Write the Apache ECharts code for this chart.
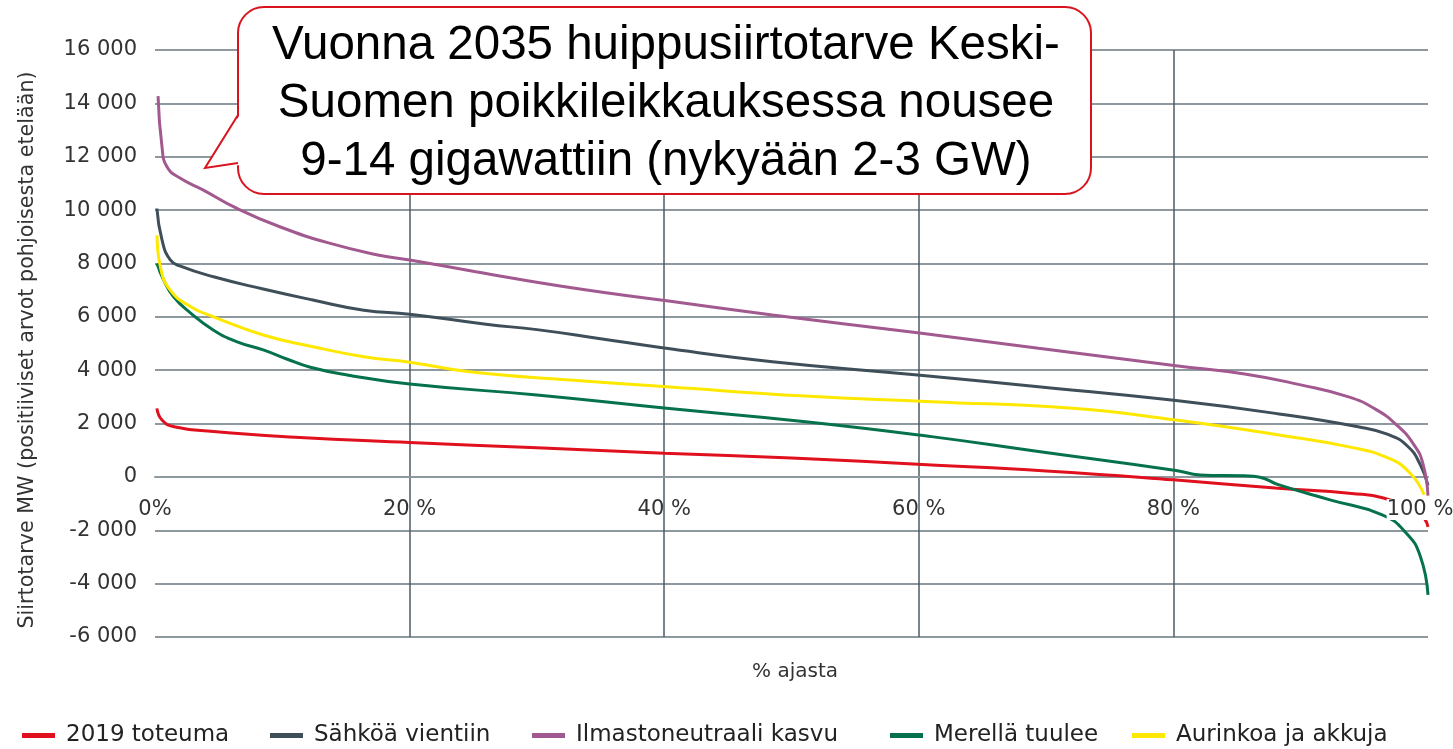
<!DOCTYPE html>
<html>
<head>
<meta charset="utf-8">
<script src="https://cdn.jsdelivr.net/npm/echarts@6/dist/echarts.min.js"></script>
<style>
html,body{margin:0;padding:0;background:#fff;}
#c{width:1453px;height:749px;}
</style>
</head>
<body>
<div id="c"></div>
<script>
// ---- data ----
const seriesNames = ['2019 toteuma', 'Sähköä vientiin', 'Ilmastoneutraali kasvu', 'Merellä tuulee', 'Aurinkoa ja akkuja'];
const seriesColors = ['#e0101e', '#3e4f59', '#a2598f', '#05724c', '#ffe800'];

const xTickLabels = ['0%', '20 %', '40 %', '60 %', '80 %', '100 %'];

const pct2019 = [0.15, 0.55, 1.5, 4.6, 11, 20, 30, 40, 50, 61, 70, 80, 88, 94, 96.5, 99.4, 100];
const val2019 = [2570, 2130, 1880, 1700, 1490, 1290, 1090, 890, 710, 450, 225, -110, -420, -620, -790, -1420, -1870];

const pctVienti = [0.15, 0.55, 1.2, 2, 4.6, 8.5, 12.4, 16.4, 20, 26, 30, 35, 40, 48.5, 59.9, 69.4, 80.2, 88.3, 94.5, 96.8, 98.4, 99.4, 100];
const valVienti = [10060, 8880, 8130, 7900, 7500, 7040, 6630, 6250, 6100, 5720, 5520, 5180, 4830, 4320, 3820, 3380, 2860, 2360, 1880, 1600, 1150, 450, -320];

const pctIlmasto = [0.24, 0.55, 0.94, 1.96, 3.8, 6.4, 9.8, 13.7, 17.6, 20, 25.2, 32.6, 40.2, 48.5, 59.9, 69.4, 80.2, 85.6, 90, 93.7, 95.8, 97.6, 98.9, 99.6, 100];
const valIlmasto = [14270, 12370, 11620, 11200, 10750, 10070, 9375, 8760, 8310, 8130, 7690, 7100, 6600, 6070, 5400, 4820, 4170, 3860, 3450, 3010, 2560, 1920, 1200, 500, -700];

const pctMeri = [0.16, 0.68, 1.46, 2.8, 4.6, 6.4, 8.5, 10.4, 12.2, 15.1, 20, 30, 40.2, 51.1, 61, 69.4, 80.2, 82.1, 85.6, 86.7, 88.3, 92.3, 96.4, 98.3, 99.4, 100];
const valMeri = [8000, 7380, 6750, 6140, 5500, 5070, 4760, 4410, 4110, 3820, 3480, 3070, 2570, 2070, 1510, 950, 240, 75, 40, 0, -300, -860, -1420, -2110, -2980, -4420];

const pctAurinko = [0.16, 0.42, 1.2, 2.8, 4.6, 8.5, 12.4, 16.4, 20, 24.7, 32.6, 40.2, 51.1, 61, 72.1, 80.2, 88.3, 93.7, 96.9, 98.6, 99.7];
const valAurinko = [9060, 7880, 7000, 6380, 6000, 5320, 4880, 4505, 4300, 3940, 3630, 3380, 3030, 2820, 2570, 2130, 1570, 1135, 700, 140, -670];

const calloutLines = ['Vuonna 2035 huippusiirtotarve Keski-', 'Suomen poikkileikkauksessa nousee', '9-14 gigawattiin (nykyään 2-3 GW)'];
const yAxisTitle = 'Siirtotarve MW (positiiviset arvot pohjoisesta etelään)';
const xAxisTitle = '% ajasta';

// ---- build ----
const FONT = '"DejaVu Sans", "Open Sans", sans-serif';
const pctSets = [pct2019, pctVienti, pctIlmasto, pctMeri, pctAurinko];
const valSets = [val2019, valVienti, valIlmasto, valMeri, valAurinko];
const zip = (a, b) => a.map((x, i) => [x, b[i]]);

function fmtY(v) {
  const a = Math.abs(v);
  let s;
  if (a >= 1000) {
    const r = String(a % 1000).padStart(3, '0');
    s = Math.floor(a / 1000) + ' ' + r;
  } else s = String(a);
  return (v < 0 ? '-' : '') + s;
}

const legendLefts = [22, 270, 532, 890, 1132];
const gridColor = '#8e989f';
const vColor = '#4d5b64';

const chart = echarts.init(document.getElementById('c'), null, {renderer: 'canvas'});
chart.setOption({
  animation: false,
  backgroundColor: '#fff',
  grid: {left: 155, right: 25, top: 50, bottom: 112, containLabel: false, outerBoundsMode: 'none'},
  xAxis: [{
    // grid lines axis
    type: 'value', min: 0, max: 100, interval: 20,
    position: 'bottom', offset: -160,
    axisLine: {show: true, onZero: false, lineStyle: {color: gridColor, width: 2}},
    axisTick: {show: false},
    axisLabel: {show: false},
    splitLine: {show: true, lineStyle: {color: ['rgba(0,0,0,0)', vColor, vColor, vColor, vColor, 'rgba(0,0,0,0)'], width: 1.5}}
  }, {
    // label axis, drawn above the lines
    type: 'value', min: 0, max: 100, interval: 20, z: 5,
    position: 'bottom', offset: -160,
    axisLine: {show: false, onZero: false}, axisTick: {show: false}, splitLine: {show: false},
    axisLabel: {
      margin: 22, fontFamily: FONT, fontSize: 21, color: '#333',
      formatter: function (v) {
        const s = xTickLabels[Math.round(v / 20)];
        return v === 100 ? '{last|' + s + '}' : s;
      },
      rich: {last: {fontFamily: FONT, fontSize: 21, color: '#333', lineHeight: 21, backgroundColor: '#fff', padding: [0, 16, 0, 0]}}
    }
  }],
  yAxis: {
    type: 'value', min: -6000, max: 16000, interval: 2000,
    axisLine: {show: false}, axisTick: {show: false},
    splitLine: {show: true, lineStyle: {color: gridColor, width: 2}},
    axisLabel: {margin: 18, fontFamily: FONT, fontSize: 21, color: '#333', formatter: fmtY}
  },
  legend: seriesNames.map((n, i) => ({
    data: [n], left: legendLefts[i], top: 724, padding: 0,
    icon: 'rect', itemWidth: 33, itemHeight: 5, selectedMode: false,
    textStyle: {fontFamily: FONT, fontSize: 23, color: '#222', padding: [0, 0, 0, 6]}
  })),
  series: seriesNames.map((n, i) => ({
    name: n, type: 'line', xAxisIndex: 0, data: zip(pctSets[i], valSets[i]),
    showSymbol: false, smooth: 0.5,
    lineStyle: {color: seriesColors[i], width: 3},
    itemStyle: {color: seriesColors[i]},
    emphasis: {disabled: true}
  })),
  graphic: [
    {type: 'text', x: 28, y: 350, rotation: Math.PI / 2,
     style: {text: yAxisTitle, fontFamily: FONT, fontSize: 20.7, fill: '#333', align: 'center', verticalAlign: 'middle'}},
    {type: 'text', x: 795, y: 672,
     style: {text: xAxisTitle, fontFamily: FONT, fontSize: 20, fill: '#333', align: 'center', verticalAlign: 'middle'}},
    {type: 'rect', z: 100, shape: {x: 238, y: 7, width: 853, height: 187, r: 26},
     style: {fill: '#fff', stroke: '#d9141e', lineWidth: 2}},
    {type: 'polygon', z: 101, shape: {points: [[241, 113], [205, 168], [241, 165]]},
     style: {fill: '#fff'}},
    {type: 'polyline', z: 102, shape: {points: [[238, 115], [205, 168], [238, 163]]},
     style: {stroke: '#d9141e', lineWidth: 2, fill: null}},
    {type: 'text', z: 103, x: 666, y: 104,
     style: {text: calloutLines.join('\n'), fontFamily: '"Liberation Sans", Arial, sans-serif', fontSize: 47.5,
             lineHeight: 58, fill: '#000', align: 'center', verticalAlign: 'middle'}}
  ]
});
</script>
</body>
</html>
